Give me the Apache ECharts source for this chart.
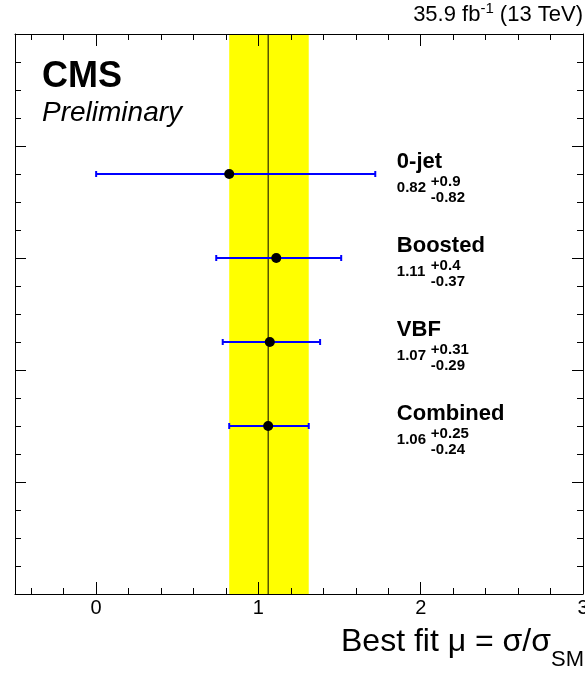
<!DOCTYPE html>
<html>
<head>
<meta charset="utf-8">
<script src="https://cdn.jsdelivr.net/npm/echarts@6/dist/echarts.min.js"></script>
<style>
html,body{margin:0;padding:0;background:#fff;}
#chart{width:585px;height:673px;}
</style>
</head>
<body>
<div id="chart"></div>
<script>
// ---- data ----
const categories = ['0-jet', 'Boosted', 'VBF', 'Combined'];
const muValues = [0.82, 1.11, 1.07, 1.06];
const errUp = [0.9, 0.4, 0.31, 0.25];
const errDown = [0.82, 0.37, 0.29, 0.24];
const rowPositions = [3.75, 3.0, 2.25, 1.5];
const xTickLabels = [0, 1, 2, 3];
const xMajorTicks = [0, 1, 2, 3];
const xMinorTicks = [-0.4, -0.2, 0.2, 0.4, 0.6, 0.8, 1.2, 1.4, 1.6, 1.8, 2.2, 2.4, 2.6, 2.8];
const combinedIndex = 3;

// ---- layout / style constants ----
const FONT = '"Liberation Sans", Arial, Helvetica, sans-serif';
const LABEL_X = 1.853;
const BLUE = '#0000ff';

const ctx2d = document.createElement('canvas').getContext('2d');
function tw(t, font) { ctx2d.font = font; return ctx2d.measureText(t).width; }

const barData = categories.map((c, i) => [
  muValues[i], muValues[i] - errDown[i], muValues[i] + errUp[i], rowPositions[i], i
]);
const bandData = [[
  muValues[combinedIndex] - errDown[combinedIndex],
  muValues[combinedIndex] + errUp[combinedIndex],
  muValues[combinedIndex]
]];

function txt(text, x, y, font, align) {
  return {
    type: 'text',
    style: {
      text: text, x: x, y: y, font: font, fill: '#000',
      align: align || 'left', textAlign: align || 'left',
      verticalAlign: 'middle', textVerticalAlign: 'middle'
    }
  };
}

const chart = echarts.init(document.getElementById('chart'), null, {renderer: 'canvas'});

function xAxisDef(pos, ticks, len, withLine, withLabels) {
  return {
    type: 'value', position: pos, min: -0.5, max: 3, z: 10,
    axisLine: {show: withLine, onZero: false, lineStyle: {color: '#000', width: 1}},
    axisTick: {show: true, inside: true, length: len, customValues: ticks, lineStyle: {color: '#000', width: 1}},
    axisLabel: withLabels ? {
      show: true, customValues: xTickLabels, margin: 4, color: '#000',
      fontSize: 20, fontFamily: FONT, formatter: v => String(v)
    } : {show: false},
    splitLine: {show: false}
  };
}
function yAxisDef(pos) {
  return {
    type: 'value', position: pos, min: 0, max: 5, interval: 1, z: 10,
    axisLine: {show: true, onZero: false, lineStyle: {color: '#000', width: 1}},
    axisTick: {show: true, inside: true, length: 11, lineStyle: {color: '#000', width: 1}},
    minorTick: {show: true, splitNumber: 4, length: 6, lineStyle: {color: '#000', width: 1}},
    axisLabel: {show: false},
    splitLine: {show: false}
  };
}

// text layout for header / axis title
const lumiMain = '22px ' + FONT, lumiSup = '15px ' + FONT;
const wC = tw(' (13 TeV)', lumiMain), wS = tw('-1', lumiSup);
const titleMain = '32px ' + FONT, titleSub = '22px ' + FONT;
const wSM = tw('SM', titleSub);

const option = {
  animation: false,
  backgroundColor: '#fff',
  grid: {left: 15, right: 2, top: 34, bottom: 79, show: false, containLabel: false, outerBoundsMode: 'none'},
  xAxis: [
    xAxisDef('bottom', xMajorTicks, 12, true, true),
    xAxisDef('bottom', xMinorTicks, 6, false, false),
    xAxisDef('top', xMajorTicks, 12, true, false),
    xAxisDef('top', xMinorTicks, 6, false, false)
  ],
  yAxis: [yAxisDef('left'), yAxisDef('right')],
  graphic: [
    txt('CMS', 42, 77, 'bold 36px ' + FONT),
    txt('Preliminary', 42, 113, 'italic 28px ' + FONT),
    txt(' (13 TeV)', 583, 15, lumiMain, 'right'),
    txt('-1', 583 - wC, 9, lumiSup, 'right'),
    txt('35.9 fb', 583 - wC - wS, 15, lumiMain, 'right'),
    txt('SM', 584, 660, titleSub, 'right'),
    txt('Best fit \u03bc = \u03c3/\u03c3', 584 - wSM, 642, titleMain, 'right')
  ],
  series: [
    {
      type: 'custom', xAxisIndex: 0, yAxisIndex: 0, z: 1, silent: true,
      data: bandData,
      renderItem: function (params, api) {
        const cs = params.coordSys;
        const a = api.coord([api.value(0), 0]);
        const b = api.coord([api.value(1), 0]);
        const c = api.coord([api.value(2), 0]);
        return {
          type: 'group',
          children: [
            {type: 'rect', shape: {x: a[0], y: cs.y, width: b[0] - a[0], height: cs.height},
             style: {fill: '#ffff00'}},
            {type: 'line', shape: {x1: c[0], y1: cs.y, x2: c[0], y2: cs.y + cs.height},
             style: {stroke: '#000', lineWidth: 1}}
          ]
        };
      }
    },
    {
      type: 'custom', xAxisIndex: 0, yAxisIndex: 0, z: 3, silent: true,
      data: barData,
      renderItem: function (params, api) {
        const y = api.value(3);
        const idx = api.value(4);
        const c = api.coord([api.value(0), y]);
        const l = api.coord([api.value(1), y]);
        const r = api.coord([api.value(2), y]);
        const t = api.coord([LABEL_X, y]);
        const yy = c[1];
        const capH = 3;
        const ls = {stroke: BLUE, lineWidth: 2};
        return {
          type: 'group',
          children: [
            {type: 'line', shape: {x1: l[0], y1: yy, x2: r[0], y2: yy}, style: ls},
            {type: 'line', shape: {x1: l[0], y1: yy - capH, x2: l[0], y2: yy + capH}, style: ls},
            {type: 'line', shape: {x1: r[0], y1: yy - capH, x2: r[0], y2: yy + capH}, style: ls},
            {type: 'circle', shape: {cx: c[0], cy: yy, r: 5}, style: {fill: '#000'}},
            txt(categories[idx], t[0], yy - 12.5, 'bold 22px ' + FONT),
            txt(muValues[idx].toFixed(2), t[0], yy + 14, 'bold 15px ' + FONT),
            txt('+' + String(errUp[idx]), t[0] + 34, yy + 7.5, 'bold 15px ' + FONT),
            txt('-' + String(errDown[idx]), t[0] + 34, yy + 23.5, 'bold 15px ' + FONT)
          ]
        };
      }
    }
  ]
};
chart.setOption(option);
</script>
</body>
</html>
